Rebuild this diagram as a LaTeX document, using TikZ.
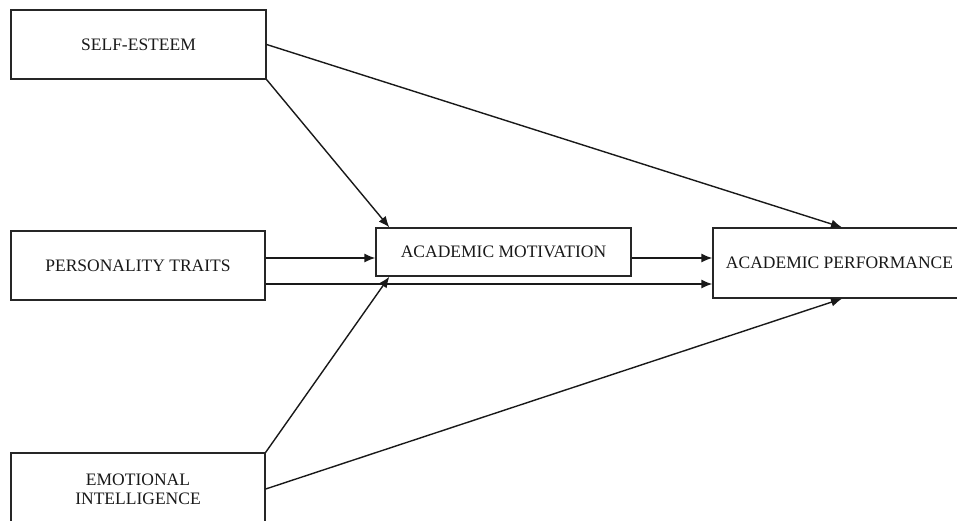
\documentclass[tikz,border=0pt]{standalone}
\usepackage{fontspec}
\setmainfont{Liberation Serif}
\usetikzlibrary{arrows.meta,calc}
\begin{document}
\begin{tikzpicture}[x=1pt,y=-1pt,
  box/.style={draw=black!85, line width=1.3pt, inner sep=0pt, align=center,
    font=\fontsize{17.5}{20}\selectfont, text=black!90},
  link/.style={draw=black!90, line width=1.4pt, -{Latex[length=11pt,width=9pt]}}]
\useasboundingbox (0,0) rectangle (957,520);
\clip (0,0) rectangle (957,520);
\fill[white] (0,0) rectangle (957,520);
\node[box, minimum width=255pt, minimum height=69pt] (se) at (138.5,44.5) {SELF-ESTEEM};
\node[box, minimum width=254pt, minimum height=69pt] (pt) at (138,265.5) {PERSONALITY TRAITS};
\node[box, minimum width=254pt, minimum height=72pt] (ei) at (138,489) {EMOTIONAL\\[-1pt]INTELLIGENCE};
\node[box, minimum width=255pt, minimum height=48pt] (am) at (503.5,252) {ACADEMIC MOTIVATION};
\node[box, minimum width=253pt, minimum height=70pt] (ap) at (839.5,263) {ACADEMIC PERFORMANCE};
\draw[link] (se.east) -- ($(ap.north)+(2.5,0)$);
\draw[link] (se.south east) -- ($(am.north west)+(14,0)$);
\draw[link] ($(pt.east)+(0,-7.5)$) -- ($(am.west)+(0,6)$);
\draw[link] ($(am.east)+(0,6)$) -- ($(ap.west)+(0,-5)$);
\draw[link] ($(pt.east)+(0,18.5)$) -- ($(ap.west)+(0,21)$);
\draw[link] (ei.north east) -- ($(am.south west)+(14,0)$);
\draw[link] (ei.east) -- ($(ap.south)+(2.5,0)$);
\end{tikzpicture}
\end{document}
